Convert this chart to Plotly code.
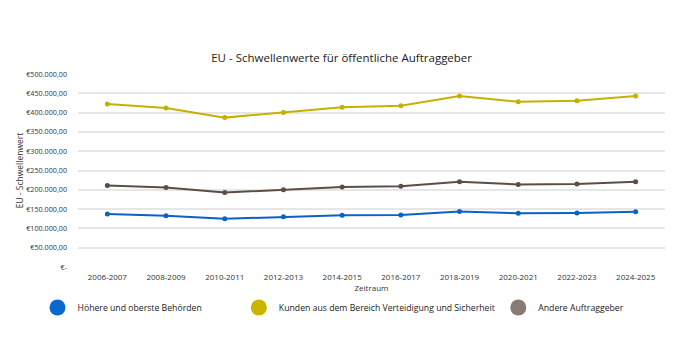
import plotly.graph_objects as go

zeitraum = ["2006-2007", "2008-2009", "2010-2011", "2012-2013", "2014-2015",
            "2016-2017", "2018-2019", "2020-2021", "2022-2023", "2024-2025"]
hoehere = [137000, 133000, 125000, 130000, 134000, 135000, 144000, 139000, 140000, 143000]
verteidigung = [422000, 412000, 387000, 400000, 414000, 418000, 443000, 428000, 431000, 443000]
andere = [211000, 206000, 193000, 200000, 207000, 209000, 221000, 214000, 215000, 221000]

names = ["Höhere und oberste Behörden",
         "Kunden aus dem Bereich Verteidigung und Sicherheit",
         "Andere Auftraggeber"]
line_colors = ["#0a62c9", "#c6b000", "#5c4d45"]
legend_colors = ["#0a68cf", "#c9b400", "#877b74"]
series = [hoehere, verteidigung, andere]

tickvals = [0, 50000, 100000, 150000, 200000, 250000, 300000, 350000, 400000, 450000, 500000]
ticktext = ["€-"] + ["€{:,}".format(v).replace(",", ".") + ",00" for v in tickvals[1:]]

fig = go.Figure()
for name, vals, c in zip(names, series, line_colors):
    fig.add_trace(go.Scatter(x=zeitraum, y=vals, mode="lines+markers", name=name,
                             line=dict(color=c, width=2), marker=dict(color=c, size=5),
                             showlegend=False))

legend_ids = ["legend", "legend2", "legend3"]
legend_x = [-0.069, 0.274, 0.716]
for name, c, lid in zip(names, legend_colors, legend_ids):
    fig.add_trace(go.Scatter(x=[None], y=[None], mode="markers", name=name,
                             marker=dict(color=c, size=17), legend=lid))

font = "Open Sans, sans-serif"
leg_common = dict(orientation="h", yanchor="middle", y=-0.21, xanchor="left",
                  font=dict(family=font, size=8.7, color="#222"), bgcolor="rgba(0,0,0,0)",
                  itemsizing="trace", tracegroupgap=0)
layout_legends = {lid: dict(x=lx, **leg_common) for lid, lx in zip(legend_ids, legend_x)}

fig.update_layout(
    width=686, height=343,
    margin=dict(l=78, r=21, t=74, b=76),
    paper_bgcolor="white", plot_bgcolor="white",
    title=dict(text="EU - Schwellenwerte für öffentliche Auftraggeber", x=0.498, xanchor="center",
               y=0.832, yanchor="middle", font=dict(family=font, size=11.5, color="#222")),
    xaxis=dict(type="category", range=[-0.5, 9.5], showgrid=False, showline=False, zeroline=False,
               automargin=False,
               tickfont=dict(family=font, size=8, color="#333"), ticks="", ticklabelstandoff=4,
               title=dict(text="Zeitraum", font=dict(family=font, size=8, color="#333"), standoff=4)),
    yaxis=dict(range=[0, 500000], tickvals=tickvals, ticktext=ticktext, showgrid=True,
               automargin=False,
               gridcolor="#e6e6e6", gridwidth=1.5, zeroline=False, showline=False,
               tickfont=dict(family=font, size=7.2, color="#333"), ticks="", ticklabelstandoff=10,
               title=dict(text="EU - Schwellenwert", font=dict(family=font, size=8.5, color="#333"),
                          standoff=1)),
    **layout_legends,
)

fig.write_html("out.html")
